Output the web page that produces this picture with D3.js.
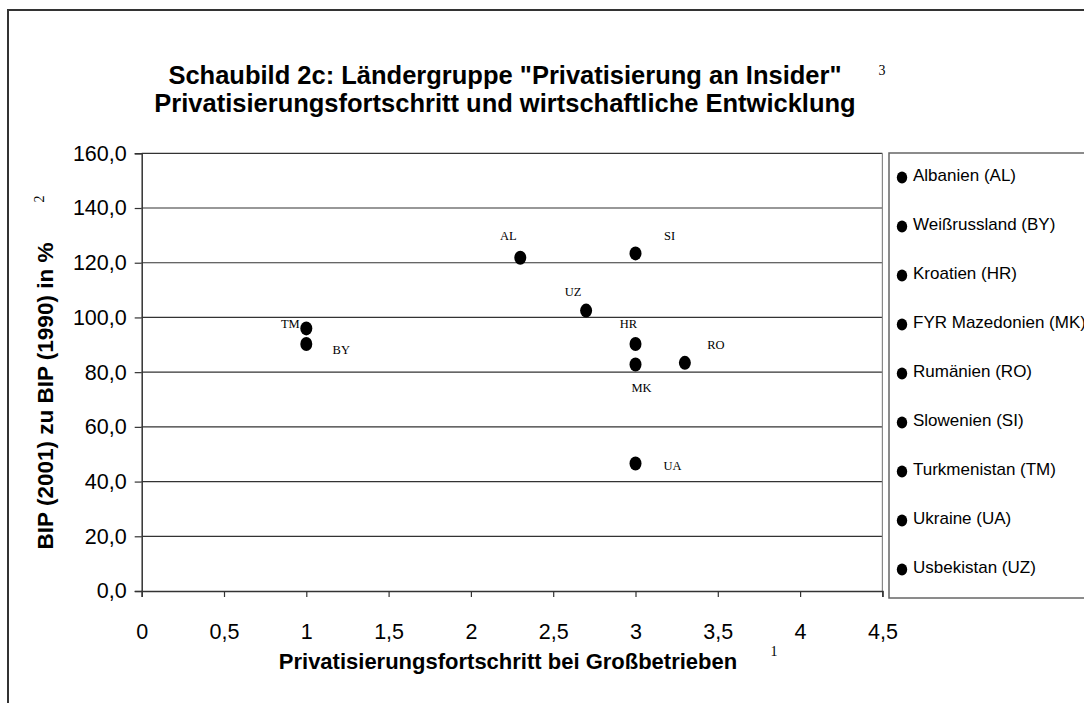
<!DOCTYPE html>
<html><head><meta charset="utf-8">
<script src="https://cdnjs.cloudflare.com/ajax/libs/d3/7.8.5/d3.min.js"></script>
<style>
html,body{margin:0;padding:0;background:#fff;}
svg{display:block;}
</style></head>
<body>
<script>
// ---- data ----
const codes = ["AL","BY","HR","MK","RO","SI","TM","UA","UZ"];
const countries = ["Albanien (AL)","Weißrussland (BY)","Kroatien (HR)","FYR Mazedonien (MK)","Rumänien (RO)","Slowenien (SI)","Turkmenistan (TM)","Ukraine (UA)","Usbekistan (UZ)"];
const privatisierung = [2.3, 1, 3, 3, 3.3, 3, 1, 3, 2.7];
const bip = [121.8, 90.3, 90.3, 82.8, 83.4, 123.4, 96.0, 46.6, 102.5];
const xTicks = [0,0.5,1,1.5,2,2.5,3,3.5,4,4.5];
const yTicks = [0,20,40,60,80,100,120,140,160];
const titleLines = ['Schaubild 2c: Ländergruppe "Privatisierung an Insider"', 'Privatisierungsfortschritt und wirtschaftliche Entwicklung'];
const xTitle = "Privatisierungsfortschritt bei Großbetrieben";
const yTitle = "BIP (2001) zu BIP (1990) in %";

// label offsets (layout only)
const labelOffset = {AL:[-12,-22],BY:[35,6],HR:[-7,-20],MK:[6,24],RO:[31,-18],SI:[34,-17],TM:[-16,-4],UA:[37,2],UZ:[-13,-19]};

const W=1084,H=703;
const svg=d3.select("body").append("svg").attr("width",W).attr("height",H);
const sans="'Liberation Sans', Arial, sans-serif";
const serif="'Liberation Serif', 'Times New Roman', serif";

// outer frame
svg.append("rect").attr("x",8).attr("y",10).attr("width",1100).attr("height",720)
  .attr("fill","none").attr("stroke","#333").attr("stroke-width",2);

const x=d3.scaleLinear().domain([0,4.5]).range([141.7,882.4]);
const y=d3.scaleLinear().domain([0,160]).range([591,153.3]);

// gridlines
svg.append("g").selectAll("line").data(yTicks.filter(d=>d>0)).join("line")
  .attr("x1",x(0)).attr("x2",x(4.5)).attr("y1",d=>y(d)).attr("y2",d=>y(d))
  .attr("stroke","#333").attr("stroke-width",1.2);
// right plot border
svg.append("line").attr("x1",x(4.5)).attr("x2",x(4.5)).attr("y1",y(160)).attr("y2",y(0))
  .attr("stroke","#888").attr("stroke-width",1.2);

// axes
const yAxis=d3.axisLeft(y).tickValues(yTicks).tickSize(7).tickPadding(8)
  .tickFormat(d=>d3.format(".1f")(d).replace(".",","));
const gy=svg.append("g").attr("transform",`translate(${x(0)},0)`).call(yAxis);
gy.select(".domain").attr("stroke","#333").attr("stroke-width",1.5);
gy.selectAll(".tick line").attr("stroke","#333").attr("stroke-width",1.2);
gy.selectAll(".tick text").attr("font-family",sans).attr("font-size",21.5).attr("fill","#000");

const xAxis=d3.axisBottom(x).tickValues(xTicks).tickSize(6).tickPadding(27)
  .tickFormat(d=>String(d).replace(".",","));
const gx=svg.append("g").attr("transform",`translate(0,${y(0)})`).call(xAxis);
gx.select(".domain").attr("stroke","#333").attr("stroke-width",1.5);
gx.selectAll(".tick line").attr("stroke","#333").attr("stroke-width",1.2);
gx.selectAll(".tick text").attr("font-family",sans).attr("font-size",21.5).attr("fill","#000");

// points
const data=codes.map((c,i)=>({code:c,x:privatisierung[i],y:bip[i]}));
svg.append("g").selectAll("ellipse").data(data).join("ellipse")
  .attr("cx",d=>x(d.x)).attr("cy",d=>y(d.y)).attr("rx",6).attr("ry",7).attr("fill","#000");
svg.append("g").selectAll("text").data(data).join("text")
  .attr("x",d=>x(d.x)+labelOffset[d.code][0]).attr("y",d=>y(d.y)+labelOffset[d.code][1])
  .attr("text-anchor","middle").attr("dominant-baseline","central")
  .attr("font-family",serif).attr("font-size",12.5).text(d=>d.code);

// title
svg.append("g").selectAll("text").data(titleLines).join("text")
  .attr("x",505).attr("y",(d,i)=>84+i*28)
  .attr("text-anchor","middle").attr("font-family",sans).attr("font-weight","bold")
  .attr("font-size",25.5).text(d=>d);
svg.append("text").attr("x",882).attr("y",75).attr("text-anchor","middle")
  .attr("font-family",serif).attr("font-size",14).text("3");

// axis titles
svg.append("text").attr("transform","translate(53,396) rotate(-90)")
  .attr("text-anchor","middle").attr("font-family",sans).attr("font-weight","bold")
  .attr("font-size",22.5).text(yTitle);
svg.append("text").attr("transform","translate(44,199) rotate(-90)")
  .attr("text-anchor","middle").attr("font-family",serif).attr("font-size",14).text("2");
svg.append("text").attr("x",508).attr("y",669).attr("text-anchor","middle")
  .attr("font-family",sans).attr("font-weight","bold").attr("font-size",22).text(xTitle);
svg.append("text").attr("x",774).attr("y",656).attr("text-anchor","middle")
  .attr("font-family",serif).attr("font-size",14).text("1");

// legend
svg.append("rect").attr("x",889).attr("y",153).attr("width",220).attr("height",445)
  .attr("fill","none").attr("stroke","#666").attr("stroke-width",1.5);
const lg=svg.append("g").selectAll("g").data(countries).join("g")
  .attr("transform",(d,i)=>`translate(0,${175+i*49})`);
lg.append("ellipse").attr("cx",902).attr("cy",2.5).attr("rx",5.2).attr("ry",6).attr("fill","#000");
lg.append("text").attr("x",913).attr("y",0).attr("dominant-baseline","central")
  .attr("font-family",sans).attr("font-size",17).text(d=>d);
</script>
</body></html>
